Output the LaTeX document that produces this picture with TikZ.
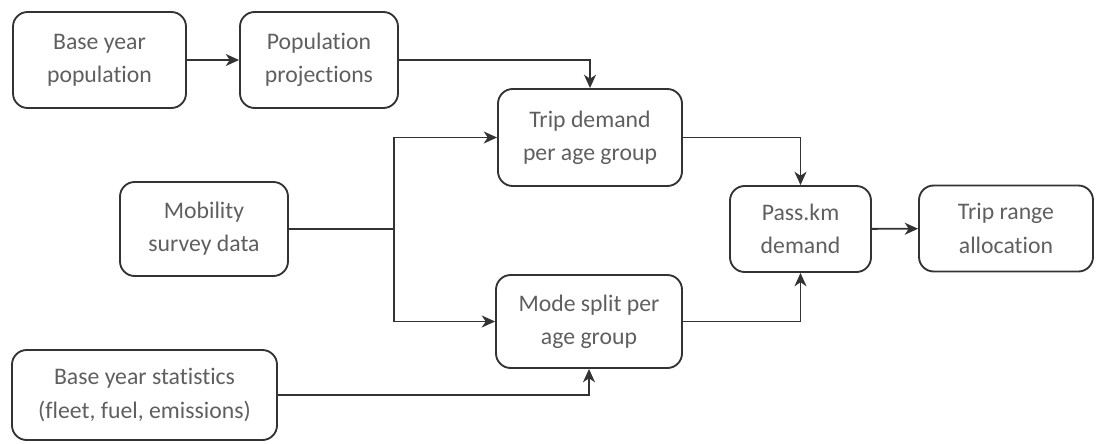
\documentclass[tikz,border=0pt]{standalone}
\usepackage{fontspec}
\setmainfont{Carlito}[Ligatures=NoCommon]
\usetikzlibrary{arrows.meta}

\definecolor{boxline}{HTML}{333333}
\definecolor{boxtext}{HTML}{5F5F5F}

\tikzset{
  flowbox/.style={draw=boxline, line width=1.4pt, rounded corners=11pt,
                  align=center, text=boxtext, inner sep=0pt,
                  font=\fontsize{17.8}{25}\selectfont},
  flowarrow/.style={draw=boxline, line width=1.4pt,
                    -{Stealth[length=10pt,width=9pt,inset=3pt]}},
  flowline/.style={draw=boxline, line width=1.4pt}
}

\begin{document}
\begin{tikzpicture}[x=0.75pt, y=-0.75pt]
    \useasboundingbox (0,0) rectangle (1096,443);

    % inputs
    \node[flowbox, minimum width=129.75pt, minimum height=72pt]
        (basepop) at (99.5,60) {Base year\\population};
    \node[flowbox, minimum width=118.5pt, minimum height=72pt]
        (popproj) at (319,60) {Population\\projections};
    \node[flowbox, minimum width=126pt, minimum height=70.5pt]
        (mobsurvey) at (204,229) {Mobility\\survey data};
    \node[flowbox, minimum width=198.75pt, minimum height=67.5pt]
        (basestat) at (144.5,395) {Base year statistics\\(fleet, fuel, emissions)};

    % intermediate
    \node[flowbox, minimum width=138pt, minimum height=72.75pt]
        (tripdem) at (590,137.5) {Trip demand\\per age group};
    \node[flowbox, minimum width=139.5pt, minimum height=69.75pt]
        (modesplit) at (589,321.5) {Mode split per\\age group};

    % outputs
    \node[flowbox, minimum width=105.75pt, minimum height=64.5pt]
        (passkm) at (800.5,229) {Pass.km\\demand};
    \node[flowbox, minimum width=130.5pt, minimum height=64.5pt]
        (triprange) at (1006,228.5) {Trip range\\allocation};

    \coordinate (split) at (394,229);

    \draw[flowarrow] (basepop) -- (popproj);
    \draw[flowarrow] (popproj.east) -| (tripdem.north);
    \draw[flowline] (mobsurvey.east) -- (split);
    \draw[flowarrow] (split) |- (tripdem.west);
    \draw[flowarrow] (split) |- (modesplit.west);
    \draw[flowarrow] (tripdem.east) -| (passkm.north);
    \draw[flowarrow] (modesplit.east) -| (passkm.south);
    \draw[flowarrow] (basestat.east) -| (modesplit.south);
    \draw[flowarrow] (passkm) -- (triprange);
\end{tikzpicture}
\end{document}
